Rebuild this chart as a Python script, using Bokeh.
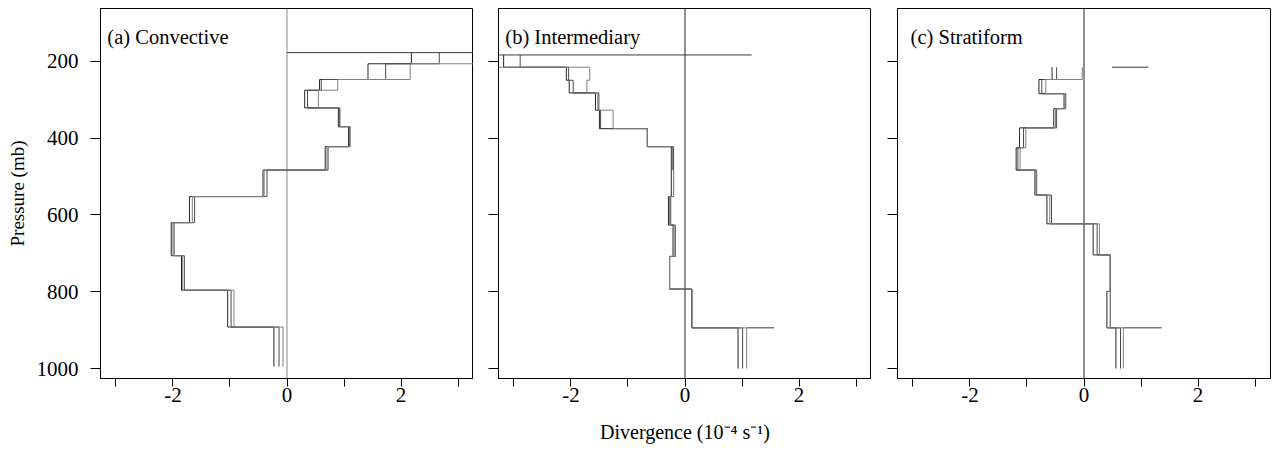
from bokeh.plotting import figure
from bokeh.layouts import row
from bokeh.models import Range1d, FixedTicker, Label
from bokeh.embed import file_html
from bokeh.resources import INLINE

# ---------------- data ----------------
pressure_ticks = [200, 400, 600, 800, 1000]
div_ticks = [-2, 0, 2]
div_tick_labels = ["-2", "0", "2"]
div_minor_ticks = [-3, -1, 1, 3]

# (a) Convective: layer boundaries (mb) and layer-mean divergence of three estimates
conv_levels = [177, 206, 247, 275, 321, 370, 422, 483, 552, 620, 706, 796, 892, 995]
conv_1 = [2.18, 1.42, 0.57, 0.31, 0.90, 1.08, 0.67, -0.42, -1.71, -2.03, -1.85, -1.04, -0.23]
conv_2 = [2.67, 1.73, 0.60, 0.36, 0.92, 1.10, 0.72, -0.35, -1.62, -1.98, -1.80, -0.98, -0.14]
conv_3 = [3.60, 2.16, 0.89, 0.55, 0.93, 1.11, 0.70, -0.40, -1.66, -2.00, -1.83, -0.93, -0.07]
conv_extra_p = [177]
conv_extra_x0 = [0.0]
conv_extra_x1 = [3.60]

# (b) Intermediary
inter_levels = [183, 215, 249, 282, 327, 375, 422, 483, 552, 626, 708, 793, 894, 1000]
inter_1 = [-3.18, -2.08, -2.03, -1.57, -1.50, -0.66, -0.24, -0.24, -0.29, -0.21, -0.27, 0.12, 0.93]
inter_2 = [-2.89, -2.04, -1.96, -1.51, -1.48, -0.66, -0.20, -0.20, -0.25, -0.17, -0.27, 0.12, 1.01]
inter_3 = [-3.60, -1.67, -1.72, -1.53, -1.26, -0.66, -0.22, -0.20, -0.27, -0.19, -0.27, 0.12, 1.08]
inter_extra_p = [183, 894]
inter_extra_x0 = [-3.60, 1.08]
inter_extra_x1 = [1.17, 1.56]

# (c) Stratiform
strat_levels = [215, 247, 284, 323, 373, 425, 483, 548, 623, 704, 799, 894, 1000]
strat_1 = [-0.56, -0.79, -0.35, -0.53, -1.13, -1.19, -0.86, -0.65, 0.16, 0.46, 0.40, 0.56]
strat_2 = [-0.48, -0.74, -0.32, -0.48, -1.06, -1.16, -0.83, -0.57, 0.23, 0.46, 0.46, 0.64]
strat_3 = [-0.03, -0.67, -0.33, -0.50, -1.02, -1.12, -0.84, -0.60, 0.27, 0.46, 0.40, 0.69]
strat_extra_p = [215, 894]
strat_extra_x0 = [0.49, 0.69]
strat_extra_x1 = [1.13, 1.36]

titles = ["(a) Convective", "(b) Intermediary", "(c) Stratiform"]
y_title = "Pressure (mb)"
x_title = "Divergence (10\u207b\u2074 s\u207b\u00b9)"

# ---------------- drawing ----------------
FONT = "Liberation Serif"
SERIES_COLORS = ["#262626", "#4a4a4a", "#808080"]
FRAME_W = 373
TOP = 8
BOTTOM = 80
HEIGHT = TOP + 370 + BOTTOM


def step_path(levels, values):
    xs, ys = [], []
    for i, v in enumerate(values):
        xs += [v, v]
        ys += [levels[i], levels[i + 1]]
    return xs, ys


def make_panel(title, levels, series, ex_p, ex_x0, ex_x1, zero_color,
               first, xlabel, b_left, b_right, title_x):
    p = figure(width=b_left + FRAME_W + b_right, height=HEIGHT,
               x_range=Range1d(-3.27, 3.27), y_range=Range1d(1026, 62),
               output_backend="svg", toolbar_location=None, title=None,
               min_border_left=b_left, min_border_right=b_right,
               min_border_top=TOP, min_border_bottom=BOTTOM)
    p.grid.visible = False
    p.outline_line_color = "black"
    p.outline_line_width = 1
    p.background_fill_color = "white"
    p.border_fill_color = "white"

    # zero line
    p.segment(x0=[0], y0=[62], x1=[0], y1=[1026], line_color=zero_color, line_width=1)

    for vals, col in zip(series, SERIES_COLORS):
        xs, ys = step_path(levels, vals)
        p.line(xs, ys, line_color=col, line_width=1)
    p.segment(x0=ex_x0, y0=ex_p, x1=ex_x1, y1=ex_p, line_color="#3a3a3a", line_width=1)

    xa = p.xaxis[0]
    xa.ticker = FixedTicker(ticks=div_ticks, minor_ticks=div_minor_ticks)
    xa.major_label_overrides = dict(zip(div_ticks, div_tick_labels))
    xa.major_tick_in = 0
    xa.major_tick_out = 8
    xa.minor_tick_in = 0
    xa.minor_tick_out = 8
    xa.axis_line_color = "black"
    xa.major_tick_line_color = "black"
    xa.minor_tick_line_color = "black"
    xa.major_label_text_font = FONT
    xa.major_label_text_font_size = "21px"
    xa.major_label_text_color = "black"
    xa.major_label_standoff = 1
    if xlabel:
        xa.axis_label = xlabel
        xa.axis_label_text_font = FONT
        xa.axis_label_text_font_size = "20px"
        xa.axis_label_text_font_style = "normal"
        xa.axis_label_text_color = "black"
        xa.axis_label_standoff = 16

    ya = p.yaxis[0]
    ya.ticker = FixedTicker(ticks=pressure_ticks, minor_ticks=[])
    ya.major_tick_in = 0
    ya.major_tick_out = 10
    ya.axis_line_color = "black"
    ya.major_tick_line_color = "black"
    if first:
        ya.major_label_text_font = FONT
        ya.major_label_text_font_size = "21px"
        ya.major_label_text_color = "black"
        ya.major_label_standoff = 12
        ya.axis_label = y_title
        ya.axis_label_text_font = FONT
        ya.axis_label_text_font_size = "19px"
        ya.axis_label_text_font_style = "normal"
        ya.axis_label_text_color = "black"
        ya.axis_label_standoff = 6
    else:
        ya.major_label_overrides = {v: "" for v in pressure_ticks}
        ya.major_label_standoff = 0

    p.add_layout(Label(x=title_x, y=135, text=title, text_font=FONT,
                       text_font_size="20.5px", text_color="black",
                       text_baseline="alphabetic"))
    return p


pa = make_panel(titles[0], conv_levels, [conv_1, conv_2, conv_3],
                conv_extra_p, conv_extra_x0, conv_extra_x1, "#8a8a8a",
                True, None, 100, 0, -3.15)
pb = make_panel(titles[1], inter_levels, [inter_1, inter_2, inter_3],
                inter_extra_p, inter_extra_x0, inter_extra_x1, "#222222",
                False, x_title, 25, 0, -3.15)
pc = make_panel(titles[2], strat_levels, [strat_1, strat_2, strat_3],
                strat_extra_p, strat_extra_x0, strat_extra_x1, "#222222",
                False, None, 26, 3, -3.04)

layout = row(pa, pb, pc, spacing=0)
open("out.html", "w").write(file_html(layout, INLINE))
